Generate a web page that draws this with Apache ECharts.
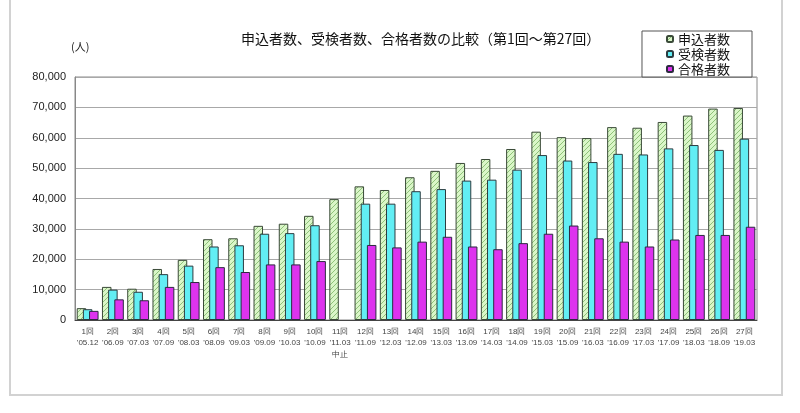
<!DOCTYPE html>
<html>
<head>
<meta charset="utf-8">
<script src="https://cdn.jsdelivr.net/npm/echarts@6/dist/echarts.min.js"></script>
<style>
html,body{margin:0;padding:0;background:#fff;}
#chart{width:800px;height:413px;}
</style>
</head>
<body>
<div id="chart"></div>
<script>
// ---- data ----
const rounds = ['1回','2回','3回','4回','5回','6回','7回','8回','9回','10回','11回','12回','13回','14回','15回','16回','17回','18回','19回','20回','21回','22回','23回','24回','25回','26回','27回'];
const dates = ["'05.12","'06.09","'07.03","'07.09","'08.03","'08.09","'09.03","'09.09","'10.03","'10.09","'11.03","'11.09","'12.03","'12.09","'13.03","'13.09","'14.03","'14.09","'15.03","'15.09","'16.03","'16.09","'17.03","'17.09","'18.03","'18.09","'19.03"];
const notes = ['','','','','','','','','','','中止','','','','','','','','','','','','','','','',''];
const applicants = [3900,10900,10300,16800,19800,26600,26900,31000,31700,34300,39800,44000,42800,47000,49100,51700,53000,56300,62000,60200,59900,63500,63300,65200,67300,69600,69800];
const examinees = [3550,10000,9300,15100,17900,24200,24600,28400,28600,31200,null,38300,38300,42400,43100,45900,46200,49500,54300,52500,52000,54700,54500,56500,57600,56000,59700];
const passed = [3000,6800,6500,10900,12500,17400,15800,18300,18300,19400,null,24700,23900,25800,27400,24200,23300,25300,28400,31100,26900,25800,24200,26500,28000,28000,30700];
const seriesNames = ['申込者数','受検者数','合格者数'];
const yTicks = {min:0, max:80000, interval:10000};
const titleText = '申込者数、受検者数、合格者数の比較（第1回～第27回）';
const unitText = '(人)';

// ---- hatch pattern for green bars ----
function hatch(){
  const c = document.createElement('canvas');
  c.width = 5; c.height = 5;
  const g = c.getContext('2d');
  g.fillStyle = '#daf6c8';
  g.fillRect(0,0,5,5);
  g.strokeStyle = '#8fc27a';
  g.lineWidth = 1;
  g.beginPath();
  g.moveTo(-1,6); g.lineTo(6,-1);
  g.moveTo(-1,1); g.lineTo(1,-1);
  g.moveTo(4,6); g.lineTo(6,4);
  g.stroke();
  return c;
}

const cats = rounds.map((r,i)=> r + '\n' + dates[i] + (notes[i] ? '\n' + notes[i] : ''));

const chart = echarts.init(document.getElementById('chart'), null, {renderer:'canvas'});
const barW = 9.5, gap = '-35%';
const opt = {
  animation:false,
  backgroundColor:'#fff',
  title:{
    text:titleText, left:236, top:27,
    textStyle:{fontFamily:'Noto Sans CJK JP', fontSize:14, fontWeight:'normal', color:'#111'}
  },
  legend:{
    orient:'vertical', right:48, top:31,
    itemWidth:6, itemHeight:6, itemGap:1,
    backgroundColor:'#fff', borderColor:'#555', borderWidth:1,
    padding:[1,22,1,24],
    textStyle:{fontFamily:'Noto Sans CJK JP', fontSize:13, color:'#111', lineHeight:14},
    data:seriesNames
  },
  grid:{left:75, right:43, top:77, bottom:93, show:true, borderColor:'#8a8a8a', borderWidth:1},
  xAxis:{
    type:'category', data:cats,
    axisLine:{lineStyle:{color:'#444', width:1}},
    axisTick:{show:false},
    axisLabel:{interval:0, fontFamily:'Liberation Sans', fontSize:8, color:'#444', lineHeight:11.5, margin:6}
  },
  yAxis:{
    type:'value', min:yTicks.min, max:yTicks.max, interval:yTicks.interval,
    axisLine:{show:true, lineStyle:{color:'#888'}},
    axisTick:{show:false},
    splitLine:{lineStyle:{color:'#a8a8a8', width:1}},
    axisLabel:{fontFamily:'Liberation Sans', fontSize:11, color:'#222', margin:9,
      formatter:v=>v.toLocaleString('en-US')}
  },
  series:[
    {name:seriesNames[0], type:'bar', data:applicants, barWidth:barW, barGap:gap,
     itemStyle:{color:{image:hatch(), repeat:'repeat'}, borderColor:'#3a4a38', borderWidth:1}},
    {name:seriesNames[1], type:'bar', data:examinees, barWidth:barW, barGap:gap,
     itemStyle:{color:'#62eef4', borderColor:'#2c3c40', borderWidth:1}},
    {name:seriesNames[2], type:'bar', data:passed, barWidth:barW, barGap:gap,
     itemStyle:{color:'#dd33ee', borderColor:'#2c2a40', borderWidth:1}}
  ],
  graphic:[
    {type:'text', left:71, top:41, style:{text:unitText, font:'11px "Noto Sans CJK JP"', fill:'#222'}},
    {type:'rect', shape:{x:10, y:-5, width:772, height:400}, style:{fill:'none', stroke:'#d2d2d2', lineWidth:2}, silent:true}
  ]
};
chart.setOption(opt);
</script>
</body>
</html>
